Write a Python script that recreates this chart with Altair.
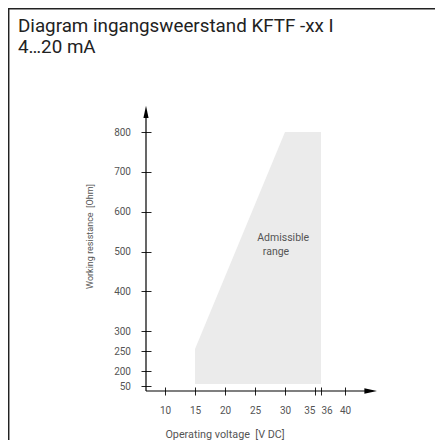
import altair as alt
import pandas as pd

# ---- data ----
title_lines = ["Diagram ingangsweerstand KFTF -xx I", "4\u202620 mA"]
x_title = "Operating voltage\u00a0\u00a0[V DC]"
y_title = "Working resistance\u00a0\u00a0[Ohm]"

x_ticks = [10, 15, 20, 25, 30, 35, 36, 40]
y_ticks = [50, 200, 250, 300, 400, 500, 600, 700, 800]

# admissible range polygon (voltage, upper resistance, lower resistance)
area_v = [15, 30, 36]
area_hi = [255, 800, 800]
area_lo = [70, 70, 70]

label_text = ["Admissible", "range"]
label_v = [29.7, 28.5]
label_r = [534, 499]

area_df = pd.DataFrame({"v": area_v, "hi": area_hi, "lo": area_lo})
lab_df = pd.DataFrame({"v": label_v, "r": label_r, "t": label_text})
one = pd.DataFrame({"a": [0]})

W, H = 231, 285
FONT = "Roboto"
GRAY = "#555555"
DARK = "#222222"

xscale = alt.Scale(domain=[41 / 6, 272 / 6], nice=False, zero=False)
yscale = alt.Scale(domain=[0, 50, 200, 865.3], range=[H, 280, 265, 0], nice=False, zero=False)

xaxis = alt.Axis(
    values=x_ticks, domain=False, grid=False, offset=-4, tickSize=8, tickColor=DARK,
    tickWidth=1, labelPadding=10, labelFont=FONT, labelFontSize=10, labelColor=GRAY,
    labelOverlap=False, labelFlush=False, labelBound=False, title=None, format="d",
    labelAlign={"expr": "datum.value == 35 ? 'right' : datum.value == 36 ? 'left' : 'center'"},
)
yaxis = alt.Axis(
    values=y_ticks, domain=False, grid=False, offset=-5, tickSize=10, tickColor=DARK,
    tickWidth=1, labelPadding=10.5, labelFont=FONT, labelFontSize=10, labelColor=GRAY,
    labelOverlap=False, labelFlush=False, labelBound=False, title=None, format="d",
)

area = alt.Chart(area_df).mark_area(color="#ebebeb", opacity=1).encode(
    x=alt.X("v:Q", scale=xscale, axis=xaxis),
    y=alt.Y("hi:Q", scale=yscale, axis=yaxis),
    y2="lo:Q",
)

labels = alt.Chart(lab_df).mark_text(font=FONT, fontSize=10.5, color=GRAY, align="center", baseline="middle").encode(
    x=alt.X("v:Q", scale=xscale, axis=xaxis),
    y=alt.Y("r:Q", scale=yscale, axis=yaxis),
    text="t:N",
)

base = alt.Chart(one)
# axis lines
y_line = base.mark_rule(color="black", strokeWidth=1.2).encode(
    x=alt.value(0), y=alt.value(8), y2=alt.value(H))
x_line = base.mark_rule(color="black", strokeWidth=1.2).encode(
    x=alt.value(0), x2=alt.value(W - 8), y=alt.value(H))
# arrow heads
y_arrow = base.mark_point(shape="M0,-1L-0.42,1L0.42,1Z", size=150, filled=True, color="black", opacity=1).encode(
    x=alt.value(0), y=alt.value(5.9))
x_arrow = base.mark_point(shape="M1,0L-1,-0.45L-1,0.45Z", size=160, filled=True, color="black", opacity=1).encode(
    x=alt.value(W - 6.3), y=alt.value(H))
# frame lines of the picture
frame_top = base.mark_rule(color=DARK, strokeWidth=1.5).encode(
    x=alt.value(-138), x2=alt.value(300), y=alt.value(-97.3))
frame_left = base.mark_rule(color=DARK, strokeWidth=1.5).encode(
    x=alt.value(-137.3), y=alt.value(-98), y2=alt.value(H + 60))

# titles
t1 = base.mark_text(text=title_lines[0], font=FONT, fontSize=18.8, color=DARK, align="left", baseline="alphabetic").encode(
    x=alt.value(-128), y=alt.value(-74))
t2 = base.mark_text(text=title_lines[1], font=FONT, fontSize=18.8, color=DARK, align="left", baseline="alphabetic").encode(
    x=alt.value(-128), y=alt.value(-53))
xt = base.mark_text(text=x_title, font=FONT, fontSize=10.8, color=GRAY, align="center", baseline="middle").encode(
    x=alt.value(79), y=alt.value(329))
yt = base.mark_text(text=y_title, font=FONT, fontSize=9, color=GRAY, align="center", baseline="middle", angle=270).encode(
    x=alt.value(-56), y=alt.value(130.5))

chart = alt.layer(
    area, labels, y_line, x_line, y_arrow, x_arrow, frame_top, frame_left, t1, t2, xt, yt
).properties(
    width=W, height=H,
    autosize=alt.AutoSizeParams(type="none"),
    padding={"left": 138, "top": 98, "right": 58, "bottom": 49},
    background="white",
).configure_view(stroke=None)

chart.save("out.html", embed_options={"renderer": "svg", "actions": False})
